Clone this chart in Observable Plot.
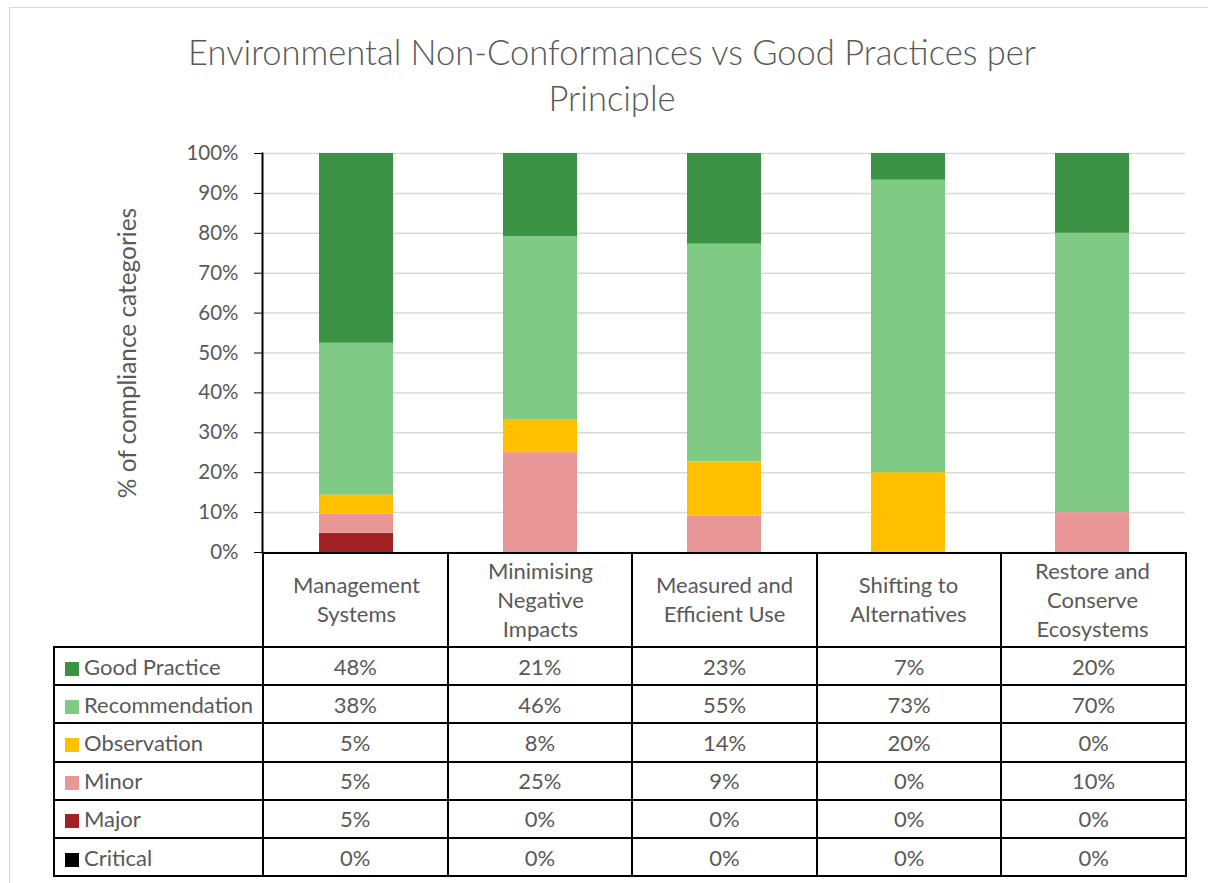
<!DOCTYPE html>
<html><head><meta charset="utf-8">
<script src="https://cdn.jsdelivr.net/npm/d3@7"></script>
<script src="https://cdn.jsdelivr.net/npm/@observablehq/plot@0.6"></script>
<style>
body{margin:0;background:#fff;font-family:Lato, sans-serif;}
#wrap{position:relative;width:1208px;height:883px;overflow:hidden;}
#border{position:absolute;left:9px;top:7px;width:1400px;height:1000px;border:1px solid #d9d9d9;}
#title{position:absolute;left:172px;width:880px;top:29px;text-align:center;font-weight:300;font-size:34.5px;line-height:46px;color:#595959;}
#chart{position:absolute;left:0;top:0;}
#tbl{position:absolute;left:53px;top:552px;border-collapse:collapse;table-layout:fixed;font-size:22px;color:#595959;font-family:Lato, sans-serif;}
#tbl td{border:2px solid #000;padding:0;text-align:center;white-space:nowrap;overflow:hidden;}
#tbl tr.head td{height:92px;}
#tbl tr.row td{height:36.2px;}
#tbl td.leg{text-align:left;padding-left:10px;}
#tbl td.corner{border-top:none;border-left:none;}
.sw{display:inline-block;width:14px;height:14px;margin-right:5px;vertical-align:-1px;}
</style></head>
<body><div id="wrap"><div id="border"></div><div id="title"></div><div id="chart"></div><table id="tbl"></table></div>
<script>
const chartTitle = "Environmental Non-Conformances vs Good Practices per Principle";
const yTitle = "% of compliance categories";
const principles = ["Management Systems","Minimising Negative Impacts","Measured and Efficient Use","Shifting to Alternatives","Restore and Conserve Ecosystems"];
const principleLabels = ["Management\nSystems","Minimising\nNegative\nImpacts","Measured and\nEfficient Use","Shifting to\nAlternatives","Restore and\nConserve\nEcosystems"];
const series = ["Good Practice","Recommendation","Observation","Minor","Major","Critical"];
const seriesColors = ["#3B9144","#7FCB86","#FFC000","#E89696","#A22125","#000000"];
const goodPractice   = [47.6, 20.8, 22.7, 6.7, 20];
const recommendation = [38.1, 45.8, 54.5, 73.3, 70];
const observation    = [4.8, 8.3, 13.6, 20, 0];
const minor          = [4.8, 25, 9.1, 0, 10];
const major          = [4.8, 0, 0, 0, 0];
const critical       = [0, 0, 0, 0, 0];
const seriesValues = [goodPractice, recommendation, observation, minor, major, critical];

document.getElementById("title").textContent = chartTitle;

const rows = [];
for (let s = series.length - 1; s >= 0; s--) {
  principles.forEach((p, i) => rows.push({principle: p, series: series[s], value: seriesValues[s][i]}));
}
const yTicks = d3.range(0, 11).map(i => i / 10);

const chart = Plot.plot({
  width: 1208, height: 648,
  marginTop: 153, marginBottom: 96, marginLeft: 262, marginRight: 23,
  style: {fontFamily: "Lato, sans-serif", color: "#595959", background: "transparent", overflow: "visible"},
  x: {domain: principles, paddingInner: 0.6, paddingOuter: 0.3, axis: null},
  y: {domain: [0, 1], axis: null},
  color: {domain: series, range: seriesColors},
  marks: [
    Plot.gridY(yTicks, {stroke: "#d9d9d9", strokeOpacity: 1, strokeWidth: 1.5}),
    Plot.barY(rows, Plot.stackY({offset: "normalize", order: null}, {x: "principle", y: "value", z: "series", fill: "series"})),
    Plot.axisY(yTicks, {tickSize: 8, tickPadding: 16, tickFormat: d3.format(".0%"), fontSize: 20.5, stroke: "#000", fill: "#595959", label: null}),
    Plot.frame({anchor: "left", stroke: "#000", strokeWidth: 2}),
    Plot.text(principles, {x: d => d, text: (d, i) => principleLabels[i], frameAnchor: "bottom", dy: 46, lineAnchor: "middle", lineHeight: 1.33, fontSize: 22, fill: "#595959"}),
    Plot.text([yTitle], {frameAnchor: "left", dx: -134, rotate: -90, textAnchor: "middle", fontSize: 24.4, fill: "#595959"})
  ]
});
document.getElementById("chart").appendChild(chart);

// data table (legend + values)
const tbl = document.getElementById("tbl");
const colgroup = document.createElement("colgroup");
[209, ...principles.map(() => 184.6)].forEach(w => { const c = document.createElement("col"); c.style.width = w + "px"; colgroup.appendChild(c); });
tbl.appendChild(colgroup);
const head = document.createElement("tr"); head.className = "head";
const corner = document.createElement("td"); corner.className = "corner"; head.appendChild(corner);
principles.forEach(() => head.appendChild(document.createElement("td")));
tbl.appendChild(head);
series.forEach((s, si) => {
  const tr = document.createElement("tr"); tr.className = "row";
  const td = document.createElement("td"); td.className = "leg";
  const sw = document.createElement("span"); sw.className = "sw"; sw.style.background = seriesColors[si];
  td.appendChild(sw); td.appendChild(document.createTextNode(s)); tr.appendChild(td);
  seriesValues[si].forEach(v => { const c = document.createElement("td"); c.textContent = Math.round(v) + "%"; tr.appendChild(c); });
  tbl.appendChild(tr);
});
</script></body></html>
